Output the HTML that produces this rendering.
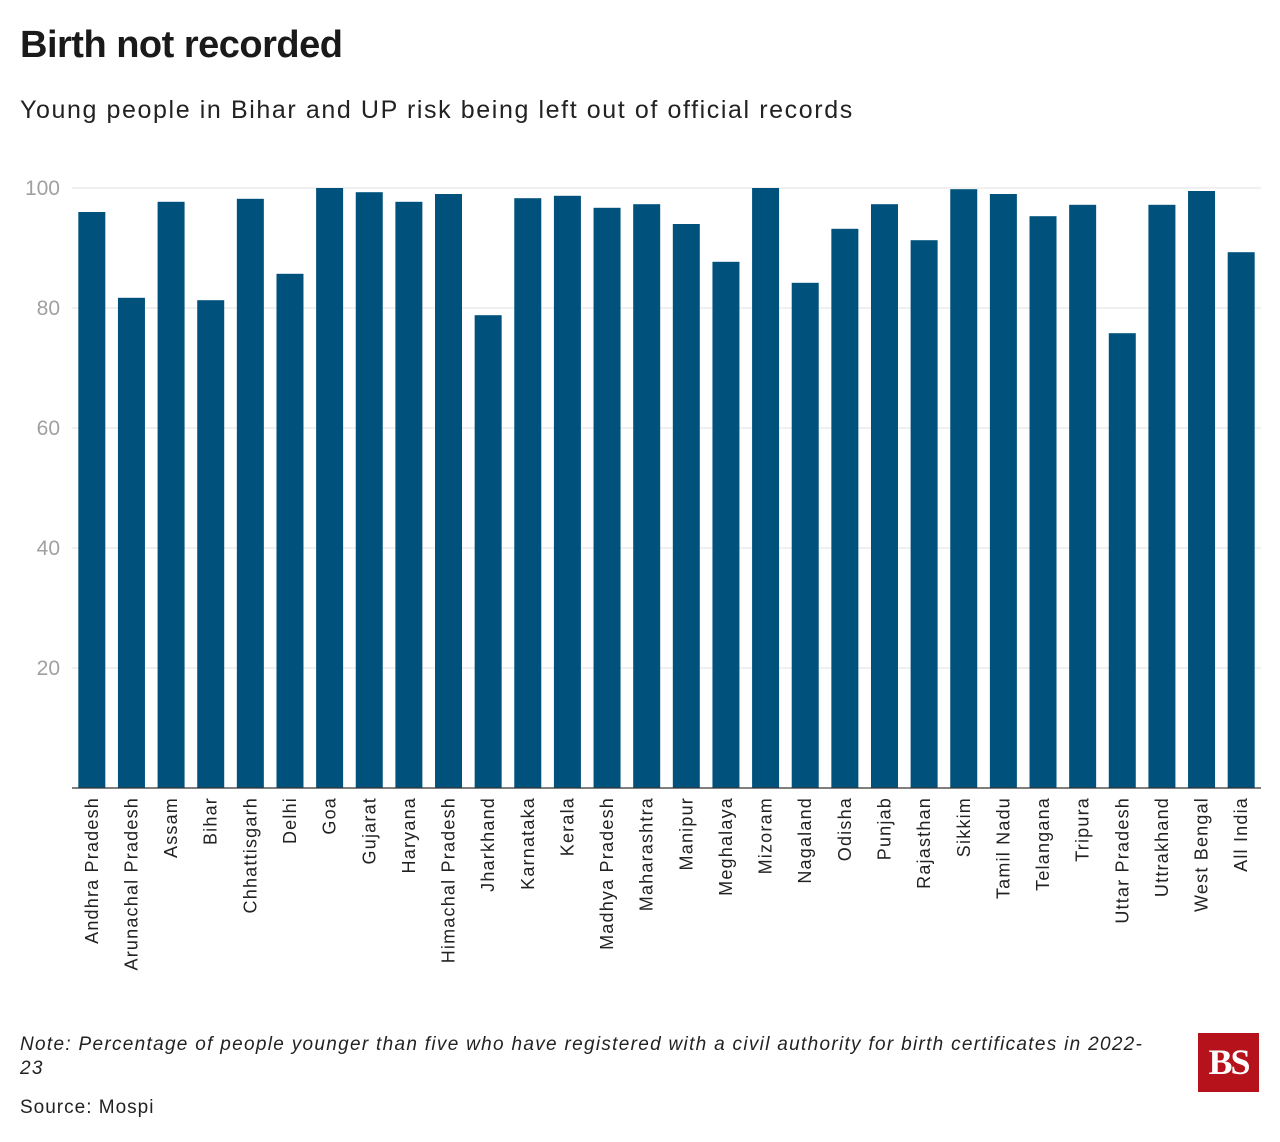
<!DOCTYPE html>
<html><head><meta charset="utf-8">
<style>
body{margin:0;background:#fff;font-family:"Liberation Sans",sans-serif;}
#wrap{position:relative;width:1280px;height:1142px;overflow:hidden;}
#title{position:absolute;left:20px;top:24px;font-size:38px;font-weight:bold;color:#1a1a1a;letter-spacing:-0.5px;}
#subtitle{position:absolute;left:20px;top:96px;font-size:25px;color:#222;letter-spacing:1.6px;}
#note{position:absolute;left:20px;top:1033px;width:1140px;font-size:19px;font-style:italic;color:#222;line-height:24px;letter-spacing:1.3px;}
#source{position:absolute;left:20px;top:1097px;font-size:19px;color:#222;letter-spacing:1px;}
#logo{position:absolute;left:1198px;top:1033px;width:61px;height:59px;background:#b5121b;color:#fff;font-family:"Liberation Serif",serif;font-weight:bold;font-size:36px;line-height:59px;text-align:center;letter-spacing:-2px;}
svg{position:absolute;left:0;top:0;}
</style></head><body>
<div id="wrap">
<div id="title">Birth not recorded</div>
<div id="subtitle">Young people in Bihar and UP risk being left out of official records</div>
<svg id="chart" width="1280" height="1142"></svg>
<div id="note">Note: Percentage of people younger than five who have registered with a civil authority for birth certificates in 2022-23</div>
<div id="source">Source: Mospi</div>
<div id="logo">BS</div>
</div>
<script>
const categories=["Andhra Pradesh","Arunachal Pradesh","Assam","Bihar","Chhattisgarh","Delhi","Goa","Gujarat","Haryana","Himachal Pradesh","Jharkhand","Karnataka","Kerala","Madhya Pradesh","Maharashtra","Manipur","Meghalaya","Mizoram","Nagaland","Odisha","Punjab","Rajasthan","Sikkim","Tamil Nadu","Telangana","Tripura","Uttar Pradesh","Uttrakhand","West Bengal","All India"];
const values=[96,81.7,97.7,81.3,98.2,85.7,100,99.3,97.7,99,78.8,98.3,98.7,96.7,97.3,94,87.7,100,84.2,93.2,97.3,91.3,99.8,99,95.3,97.2,75.8,97.2,99.5,89.3];
const yTicks=[20,40,60,80,100];
const NS="http://www.w3.org/2000/svg";
const svg=document.getElementById('chart');
const x0=72,x1=1261,yBase=788,yTop=188;
const y=v=>yBase-(v/100)*(yBase-yTop);
const step=(x1-x0)/categories.length;
const bw=27;
function mk(t,a){const e=document.createElementNS(NS,t);for(const k in a)e.setAttribute(k,a[k]);svg.appendChild(e);return e;}
yTicks.forEach(t=>{
  const g=mk('line',{x1:72,x2:1261,y1:y(t),y2:y(t),stroke:'#e2e2e2','stroke-width':1});
  
  
  const l=mk('text',{x:60,y:y(t)+7,'text-anchor':'end','font-size':21,fill:'#a0a0a0','font-family':'Liberation Sans, sans-serif'});
  l.textContent=t;
  
  
});
categories.forEach((c,i)=>{
  const cx=x0+step*(i+0.5);
  const r=mk('rect',{x:cx-bw/2,y:y(values[i]),width:bw,height:yBase-y(values[i]),fill:'#00527c'});
  
  
  const t=mk('text',{x:0,y:0,'text-anchor':'end','font-size':18,'letter-spacing':1.2,fill:'#222','font-family':'Liberation Sans, sans-serif',transform:`translate(${cx+6},797) rotate(-90)`});
  t.textContent=c;
  
  
});
const ax=mk('line',{x1:72,x2:1261,y1:yBase,y2:yBase,stroke:'#333','stroke-width':1.2});


</script>
</body></html>
